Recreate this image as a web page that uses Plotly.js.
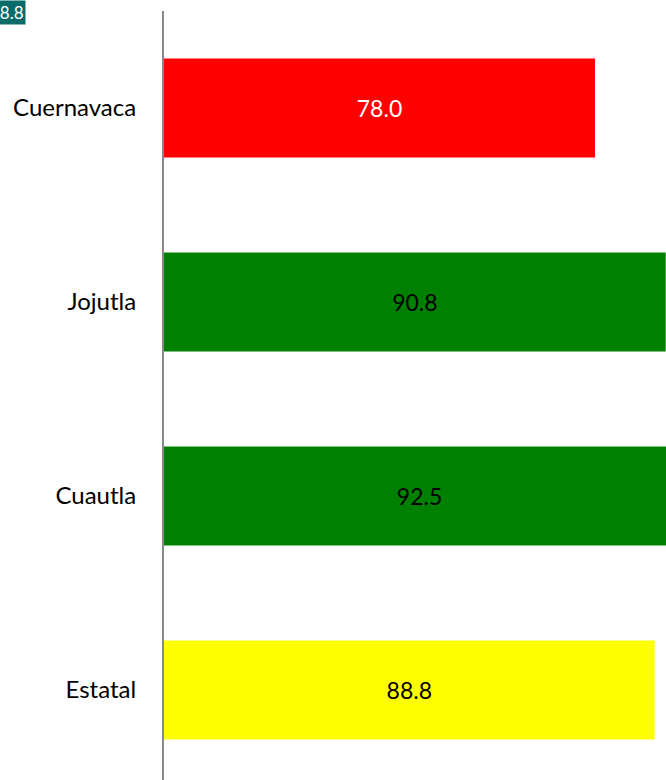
<!DOCTYPE html>
<html>
<head>
<meta charset="utf-8">
<script src="https://cdn.plot.ly/plotly-3.0.1.min.js"></script>
<style>
html,body{margin:0;padding:0;overflow:hidden;background:#fff;width:666px;height:780px;}
#chart{width:700px;height:790px;}
</style>
</head>
<body>
<div id="chart"></div>
<script>
const categories = ["Cuernavaca", "Jojutla", "Cuautla", "Estatal"];
const values = [78.0, 90.8, 92.5, 88.8];
const barColors = ["#ff0000", "#008000", "#008000", "#ffff00"];
const textColors = ["#ffffff", "#000000", "#000000", "#000000"];
const badgeText = "88.8";

const FONT = "Lato, 'Open Sans', sans-serif";
const mL = 164, mT = 11, mB = 3, W = 700, H = 790;
const plotW = W - mL, plotH = H - mT - mB;
const pxPerUnit = 431 / 78;

const trace = {
  type: "bar",
  orientation: "h",
  y: categories,
  x: values,
  marker: {color: barColors},
  text: values.map(v => v.toFixed(1)),
  textposition: "inside",
  insidetextanchor: "middle",
  textangle: 0,
  insidetextfont: {family: FONT, size: 23, color: textColors},
  hoverinfo: "none",
  cliponaxis: true
};

const layout = {
  width: W, height: H,
  margin: {l: mL, r: 0, t: mT, b: mB, pad: 0},
  paper_bgcolor: "#ffffff",
  plot_bgcolor: "#ffffff",
  showlegend: false,
  bargap: 0.49,
  font: {family: FONT, size: 24, color: "#000000"},
  xaxis: {range: [0, plotW / pxPerUnit], visible: false, fixedrange: true},
  yaxis: {
    autorange: "reversed",
    showline: true, linecolor: "#888888", linewidth: 2,
    showgrid: false, zeroline: false, ticks: "",
    ticklabelstandoff: 21,
    tickfont: {family: FONT, size: 24, color: "#000000"}
  },
  annotations: [{
    xref: "paper", yref: "paper",
    x: (26 - mL) / plotW, y: 1 + mT / plotH,
    xanchor: "right", yanchor: "top",
    text: badgeText, showarrow: false,
    bgcolor: "#0a6b6b", borderpad: 1,
    font: {family: FONT, size: 17, color: "#ffffff"}
  }]
};

Plotly.newPlot("chart", [trace], layout, {displayModeBar: false, staticPlot: true});
</script>
</body>
</html>
